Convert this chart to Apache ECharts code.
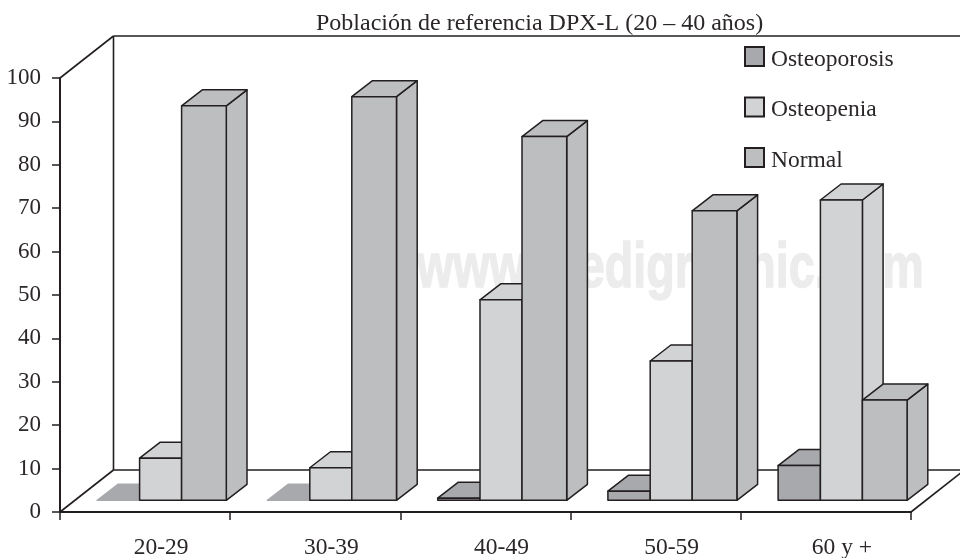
<!DOCTYPE html>
<html>
<head>
<meta charset="utf-8">
<style>
  html, body { margin: 0; padding: 0; background: #fff; }
  #chart { width: 960px; height: 558px; }
</style>
<script src="https://cdn.jsdelivr.net/npm/echarts@6/dist/echarts.min.js"></script>
</head>
<body>
<div id="chart"></div>
<script>
const categories = ['20-29', '30-39', '40-49', '50-59', '60 y +'];
const seriesNames = ['Osteoporosis', 'Osteopenia', 'Normal'];
const osteoporosis = [0, 0, 0.5, 2.1, 8];
const osteopenia = [9.7, 7.5, 46.2, 32.1, 69.2];
const normal = [90.9, 93, 83.8, 66.7, 23.1];
const yTicks = [0, 100, 10];

const colors = ['#a8a9ad', '#d1d3d4', '#bcbec0'];
const lineColor = '#231f20';
const textColor = '#2b2728';
const serif = '"Liberation Serif", serif';

// proyeccion falsa 3D
const wallDx = 53.5, wallDy = -42;   // fondo del grafico
const baseDx = 16.7, baseDy = -11.7; // donde apoyan las barras
const sideDx = 20.7, sideDy = -16;   // profundidad de la barra
const barLeft = [-64.5, -22.2, 19.8]; // borde izq. de cada barra respecto al centro
const barW = [42.3, 42, 44.7];

let barItem = (serieIdx) => (params, api) => {
  let c = api.coord([api.value(0), api.value(1)]);
  let zero = api.coord([api.value(0), 0]);
  let x0 = c[0] + baseDx + barLeft[serieIdx];
  let x1 = x0 + barW[serieIdx];
  let yBase = zero[1] + baseDy;
  let yTop = c[1] + baseDy;
  let style = {
    fill: colors[serieIdx],
    stroke: api.value(1) > 0 ? lineColor : colors[serieIdx],
    lineWidth: 1.5,
    lineJoin: 'round'
  };
  let face = (pts) => ({ type: 'polygon', shape: { points: pts }, style: style });
  return {
    type: 'group',
    children: [
      face([[x1, yBase], [x1 + sideDx, yBase + sideDy], [x1 + sideDx, yTop + sideDy], [x1, yTop]]),
      face([[x0, yTop], [x0 + sideDx, yTop + sideDy], [x1 + sideDx, yTop + sideDy], [x1, yTop]]),
      face([[x0, yBase], [x1, yBase], [x1, yTop], [x0, yTop]])
    ]
  };
};

let frameItem = (params) => {
  let g = params.coordSys;
  let l = g.x, r = g.x + g.width, t = g.y, b = g.y + g.height;
  let line = (x1, y1, x2, y2) => ({
    type: 'line',
    shape: { x1, y1, x2, y2 },
    style: { stroke: lineColor, lineWidth: 1.6 }
  });
  return {
    type: 'group',
    children: [
      line(l, t, l + wallDx, t + wallDy),
      line(l, b, l + wallDx, b + wallDy),
      line(r, b, r + wallDx, b + wallDy),
      line(l + wallDx, t + wallDy, l + wallDx, b + wallDy),
      line(l + wallDx, t + wallDy, r + wallDx, t + wallDy),
      line(l + wallDx, b + wallDy, r + wallDx, b + wallDy)
    ]
  };
};

let makeSeries = (idx, values) => ({
  name: seriesNames[idx],
  type: 'custom',
  z: 3 + idx,
  clip: false,
  renderItem: barItem(idx),
  encode: { x: 0, y: 1 },
  itemStyle: { color: colors[idx], borderColor: lineColor, borderWidth: 1.5 },
  data: values.map((v, i) => [i, v])
});

let option = {
  animation: false,
  backgroundColor: '#fff',
  title: {
    text: 'Población de referencia DPX-L (20 – 40 años)',
    left: 316,
    top: 12,
    padding: 0,
    textStyle: { fontFamily: serif, fontSize: 24, fontWeight: 'normal', color: textColor }
  },
  legend: {
    data: seriesNames,
    orient: 'vertical',
    left: 744,
    top: 46,
    padding: 0,
    icon: 'rect',
    itemWidth: 19,
    itemHeight: 19,
    itemGap: 25,
    selectedMode: false,
    formatter: (name) => '{t|' + name + '}',
    textStyle: {
      rich: {
        t: { fontFamily: serif, fontSize: 23.5, color: textColor, padding: [6, 0, 0, 2] }
      }
    }
  },
  graphic: [{
    type: 'text',
    x: 417,
    y: 301,
    scaleX: 0.741,
    z: 0,
    silent: true,
    style: {
      text: 'www.medigraphic.com',
      fontFamily: '"Liberation Sans", sans-serif',
      fontWeight: 'bold',
      fontSize: 63,
      fill: '#ececed',
      stroke: '#ececed',
      lineWidth: 1.5,
      verticalAlign: 'bottom'
    }
  }],
  grid: { left: 60, right: 49, top: 78, bottom: 46, outerBoundsMode: 'none' },
  xAxis: {
    type: 'category',
    data: categories,
    axisLine: { lineStyle: { color: lineColor, width: 2 } },
    axisTick: { show: true, alignWithLabel: false, length: 8, lineStyle: { color: lineColor, width: 1.5 } },
    axisLabel: { margin: 24, padding: [0, 0, 0, 32], fontFamily: serif, fontSize: 23.5, color: textColor, interval: 0 },
    splitLine: { show: false }
  },
  yAxis: {
    type: 'value',
    min: yTicks[0],
    max: yTicks[1],
    interval: yTicks[2],
    axisLine: { show: true, lineStyle: { color: lineColor, width: 2 } },
    axisTick: { show: true, length: 8, lineStyle: { color: lineColor, width: 1.5 } },
    axisLabel: { margin: 19, fontFamily: serif, fontSize: 23, color: textColor },
    splitLine: { show: false }
  },
  series: [
    {
      type: 'custom',
      z: 1,
      clip: false,
      silent: true,
      renderItem: frameItem,
      encode: { x: 0, y: 1 },
      data: [[0, 0]]
    },
    makeSeries(0, osteoporosis),
    makeSeries(1, osteopenia),
    makeSeries(2, normal)
  ]
};

let chart = echarts.init(document.getElementById('chart'), null, { renderer: 'canvas' });
chart.setOption(option);
</script>
</body>
</html>
